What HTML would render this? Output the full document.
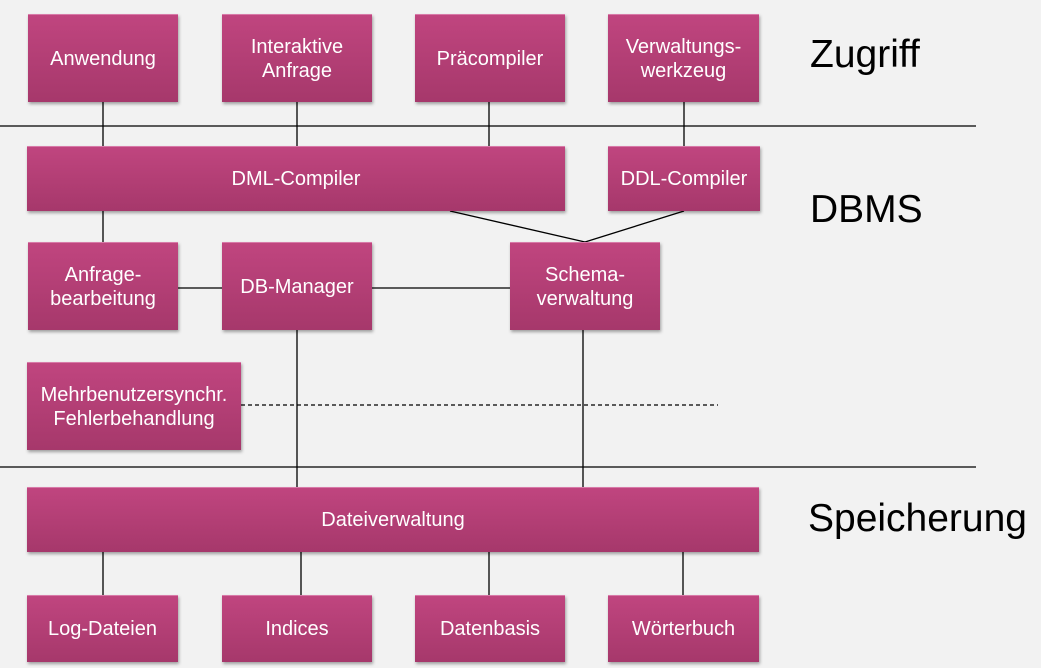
<!DOCTYPE html><html><head><style>
body{margin:0;width:1041px;height:668px;background:#f2f2f2;position:relative;overflow:hidden;font-family:"Liberation Sans",sans-serif}
.b{position:absolute;box-sizing:border-box;background:linear-gradient(#c0457f,#a6386b);border-top:1px solid #d87aa8;box-shadow:1px 2px 3px rgba(0,0,0,.35);color:#fff;font-size:20px;display:flex;align-items:center;justify-content:center;text-align:center;line-height:24px}
.t{position:absolute;font-size:39px;color:#000}
svg{position:absolute;left:0;top:0}
</style></head><body>
<svg width="1041" height="668" stroke="#000" stroke-width="1.3">
<line x1="0" y1="126" x2="976" y2="126"/><line x1="0" y1="467" x2="976" y2="467"/>
<line x1="103" y1="102" x2="103" y2="146"/><line x1="297" y1="102" x2="297" y2="146"/>
<line x1="489" y1="102" x2="489" y2="146"/><line x1="684" y1="102" x2="684" y2="146"/>
<line x1="103" y1="211" x2="103" y2="242"/>
<line x1="450" y1="211" x2="585" y2="242"/><line x1="684" y1="211" x2="585" y2="242"/>
<line x1="178" y1="288" x2="222" y2="288"/><line x1="372" y1="288" x2="510" y2="288"/>
<line x1="241" y1="405" x2="718" y2="405" stroke-dasharray="4,3"/>
<line x1="297" y1="330" x2="297" y2="487"/><line x1="583" y1="330" x2="583" y2="487"/>
<line x1="103" y1="552" x2="103" y2="595"/><line x1="301" y1="552" x2="301" y2="595"/>
<line x1="489" y1="552" x2="489" y2="595"/><line x1="683" y1="552" x2="683" y2="595"/>
</svg>
<div class="b" style="left:28px;top:14px;width:150px;height:88px">Anwendung</div>
<div class="b" style="left:222px;top:14px;width:150px;height:88px">Interaktive<br>Anfrage</div>
<div class="b" style="left:415px;top:14px;width:150px;height:88px">Präcompiler</div>
<div class="b" style="left:608px;top:14px;width:151px;height:88px">Verwaltungs-<br>werkzeug</div>
<div class="b" style="left:27px;top:146px;width:538px;height:65px">DML-Compiler</div>
<div class="b" style="left:608px;top:146px;width:152px;height:65px">DDL-Compiler</div>
<div class="b" style="left:28px;top:242px;width:150px;height:88px">Anfrage-<br>bearbeitung</div>
<div class="b" style="left:222px;top:242px;width:150px;height:88px">DB-Manager</div>
<div class="b" style="left:510px;top:242px;width:150px;height:88px">Schema-<br>verwaltung</div>
<div class="b" style="left:27px;top:362px;width:214px;height:88px">Mehrbenutzersynchr.<br>Fehlerbehandlung</div>
<div class="b" style="left:27px;top:487px;width:732px;height:65px">Dateiverwaltung</div>
<div class="b" style="left:27px;top:595px;width:151px;height:67px">Log-Dateien</div>
<div class="b" style="left:222px;top:595px;width:150px;height:67px">Indices</div>
<div class="b" style="left:415px;top:595px;width:150px;height:67px">Datenbasis</div>
<div class="b" style="left:608px;top:595px;width:151px;height:67px">Wörterbuch</div>
<div class="t" style="left:810px;top:33px">Zugriff</div>
<div class="t" style="left:810px;top:188px">DBMS</div>
<div class="t" style="left:808px;top:497px">Speicherung</div>
</body></html>
